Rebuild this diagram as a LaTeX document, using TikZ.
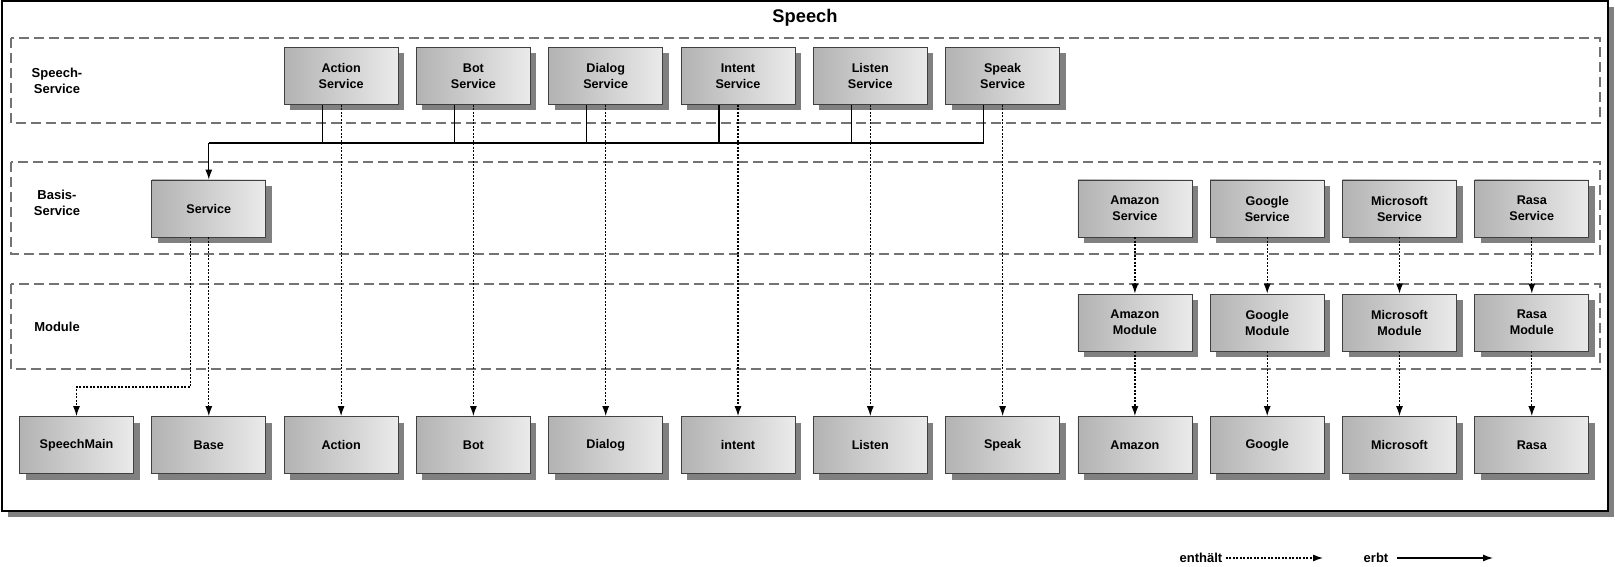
\documentclass[tikz,border=0pt]{standalone}
\usepackage{fontspec}
\setmainfont{Liberation Sans}
\usetikzlibrary{arrows.meta,shadows}

\tikzset{
  klasse/.style={draw=black!75, line width=0.8pt, left color=black!30, right color=black!8,
    minimum width=114pt, minimum height=57pt, inner sep=0pt, align=center,
    font=\bfseries\fontsize{12.6}{16}\selectfont,
    drop shadow={shadow xshift=6pt, shadow yshift=-6pt, fill=black!50, opacity=1}},
  ebene/.style={draw=black!55, line width=1.2pt, dash pattern=on 10pt off 5pt},
  ebenename/.style={align=center, font=\bfseries\fontsize{13}{16}\selectfont},
  spitze/.style={-{Latex[length=10pt,width=7pt]}},
  enthaelt/.style={line width=1.2pt, dash pattern=on 2pt off 1.5pt, spitze},
  erbt/.style={line width=1.2pt},
}

\begin{document}
\begin{tikzpicture}[x=1pt,y=-1pt]
\useasboundingbox (0,0) rectangle (1615,567);

\draw[line width=1.5pt, fill=white, drop shadow={shadow xshift=6pt, shadow yshift=-6pt, fill=black!50, opacity=1}] (2,1) rectangle (1608,511);
\node[font=\bfseries\fontsize{18.3}{20}\selectfont] (titel) at (805,17.5) {Speech};

% Ebenen
\draw[ebene] (11,38) rectangle (1600,123);
\draw[ebene] (11,162) rectangle (1600,254);
\draw[ebene] (11,284) rectangle (1600,369);
\node[ebenename] (lbl1) at (57,81) {Speech-\\Service};
\node[ebenename] (lbl2) at (57,203) {Basis-\\Service};
\node[ebenename] (lbl3) at (57,327) {Module};

% Speech-Service
\node[klasse] (actionsrv) at (341.1,76) {Action\\Service};
\node[klasse] (botsrv) at (473.4,76) {Bot\\Service};
\node[klasse] (dialogsrv) at (605.7,76) {Dialog\\Service};
\node[klasse] (intentsrv) at (738,76) {Intent\\Service};
\node[klasse] (listensrv) at (870.3,76) {Listen\\Service};
\node[klasse] (speaksrv) at (1002.6,76) {Speak\\Service};

% Basis-Service
\node[klasse] (service) at (208.8,208.5) {Service};
\node[klasse] (amazonsrv) at (1134.9,208.5) {Amazon\\Service};
\node[klasse] (googlesrv) at (1267.2,208.5) {Google\\Service};
\node[klasse] (microsoftsrv) at (1399.5,208.5) {Microsoft\\Service};
\node[klasse] (rasasrv) at (1531.8,208.5) {Rasa\\Service};

% Module
\node[klasse] (amazonmod) at (1134.9,322.5) {Amazon\\Module};
\node[klasse] (googlemod) at (1267.2,322.5) {Google\\Module};
\node[klasse] (microsoftmod) at (1399.5,322.5) {Microsoft\\Module};
\node[klasse] (rasamod) at (1531.8,322.5) {Rasa\\Module};

% untere Reihe
\node[klasse] (main) at (76.5,445) {SpeechMain};
\node[klasse] (base) at (208.8,445) {Base};
\node[klasse] (action) at (341.1,445) {Action};
\node[klasse] (bot) at (473.4,445) {Bot};
\node[klasse] (dialog) at (605.7,445) {Dialog};
\node[klasse] (intent) at (738,445) {intent};
\node[klasse] (listen) at (870.3,445) {Listen};
\node[klasse] (speak) at (1002.6,445) {Speak};
\node[klasse] (amazon) at (1134.9,445) {Amazon};
\node[klasse] (google) at (1267.2,445) {Google};
\node[klasse] (microsoft) at (1399.5,445) {Microsoft};
\node[klasse] (rasa) at (1531.8,445) {Rasa};

% erbt
\coordinate (bus) at (208.8,143);
\foreach \n in {actionsrv,botsrv,dialogsrv,intentsrv,listensrv,speaksrv}
  \draw[erbt] ([xshift=-19pt]\n.south) |- (bus);
\draw[erbt,spitze] (bus) -- (service.north);

% enthaelt
\draw[enthaelt] (actionsrv.south) -- (action.north);
\draw[enthaelt] (botsrv.south) -- (bot.north);
\draw[enthaelt] (dialogsrv.south) -- (dialog.north);
\draw[enthaelt] (intentsrv.south) -- (intent.north);
\draw[enthaelt] (listensrv.south) -- (listen.north);
\draw[enthaelt] (speaksrv.south) -- (speak.north);
\draw[enthaelt] ([xshift=-18pt]service.south) |- (main.north |- 0,387) -- (main.north);
\draw[enthaelt] (service.south) -- (base.north);
\draw[enthaelt] (amazonsrv.south) -- (amazonmod.north);
\draw[enthaelt] (googlesrv.south) -- (googlemod.north);
\draw[enthaelt] (microsoftsrv.south) -- (microsoftmod.north);
\draw[enthaelt] (rasasrv.south) -- (rasamod.north);
\draw[enthaelt] (amazonmod.south) -- (amazon.north);
\draw[enthaelt] (googlemod.south) -- (google.north);
\draw[enthaelt] (microsoftmod.south) -- (microsoft.north);
\draw[enthaelt] (rasamod.south) -- (rasa.north);

% Legende
\node[ebenename, inner sep=3pt] (enth) at (1201,558) {enthält};
\coordinate (enthende) at (1323,558);
\draw[enthaelt] (enth.east) -- (enthende);
\node[ebenename, inner sep=3pt] (erbtlbl) at (1376,558) {erbt};
\coordinate (erbtende) at (1493,558);
\draw[erbt,spitze] ([xshift=6pt]erbtlbl.east) -- (erbtende);

\end{tikzpicture}
\end{document}
